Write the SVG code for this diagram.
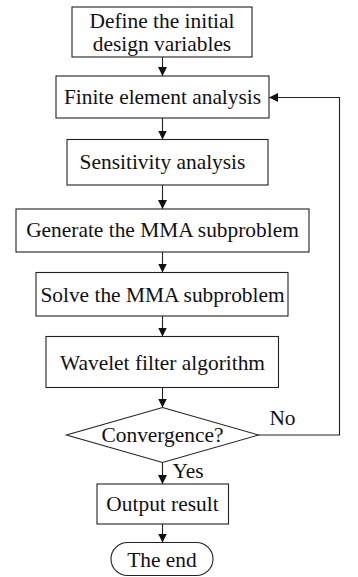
<svg xmlns="http://www.w3.org/2000/svg" width="358" height="577" viewBox="0 0 358 577">
<defs>
<style>
.b{fill:#fff;stroke:#222;stroke-width:1.1}
.t{font-family:"Liberation Serif","Times New Roman",serif;font-size:21.4px;fill:#111;text-anchor:middle}
.l{fill:none;stroke:#222;stroke-width:1.1}
</style>
<marker id="ah" viewBox="0 0 10 10" refX="10" refY="5" markerWidth="9" markerHeight="9" markerUnits="userSpaceOnUse" orient="auto">
<path d="M0,0 L10,5 L0,10 z" fill="#111"/>
</marker>
</defs>
<rect width="358" height="577" fill="#fff"/>
<g id="connectors">
<line class="l" x1="162.5" y1="57" x2="162.5" y2="76" marker-end="url(#ah)"/>
<line class="l" x1="162.5" y1="118" x2="162.5" y2="139.5" marker-end="url(#ah)"/>
<line class="l" x1="162.5" y1="185" x2="162.5" y2="209" marker-end="url(#ah)"/>
<line class="l" x1="162.5" y1="252" x2="162.5" y2="272.5" marker-end="url(#ah)"/>
<line class="l" x1="162.5" y1="316" x2="162.5" y2="336.5" marker-end="url(#ah)"/>
<line class="l" x1="162.5" y1="387.5" x2="162.5" y2="407.5" marker-end="url(#ah)"/>
<line class="l" x1="162.5" y1="462.5" x2="162.5" y2="484" marker-end="url(#ah)"/>
<line class="l" x1="162.5" y1="524" x2="162.5" y2="542.5" marker-end="url(#ah)"/>
<polyline class="l" points="258.5,435 339.5,435 339.5,97.5 269,97.5" marker-end="url(#ah)"/>
<text class="t" x="282.5" y="425">No</text>
<text class="t" x="188" y="478">Yes</text>
</g>
<g id="n1"><rect class="b" x="72" y="7" width="180" height="50"/><text class="t" x="162" y="28">Define the initial</text><text class="t" x="162" y="50.5">design variables</text></g>
<g id="n2"><rect class="b" x="56" y="76" width="213" height="42"/><text class="t" x="162.5" y="103.5">Finite element analysis</text></g>
<g id="n3"><rect class="b" x="67" y="139.5" width="201" height="45.5"/><text class="t" x="162.5" y="168.5">Sensitivity analysis</text></g>
<g id="n4"><rect class="b" x="16" y="209" width="293" height="43"/><text class="t" x="162.5" y="237">Generate the MMA subproblem</text></g>
<g id="n5"><rect class="b" x="36" y="272.5" width="252" height="43.5"/><text class="t" x="162.5" y="302">Solve the MMA subproblem</text></g>
<g id="n6"><rect class="b" x="46" y="336.5" width="232.5" height="51"/><text class="t" x="162.5" y="369.5">Wavelet filter algorithm</text></g>
<g id="n7"><polygon class="b" points="162.5,407.5 258.5,435 162.5,462.5 66.5,435"/><text class="t" x="162.5" y="442">Convergence?</text></g>
<g id="n8"><rect class="b" x="97" y="484" width="131.5" height="40"/><text class="t" x="162.5" y="510.5">Output result</text></g>
<g id="n9"><rect class="b" x="111" y="542.5" width="102" height="33" rx="16.5"/><text class="t" x="162" y="566.5">The end</text></g>
</svg>
